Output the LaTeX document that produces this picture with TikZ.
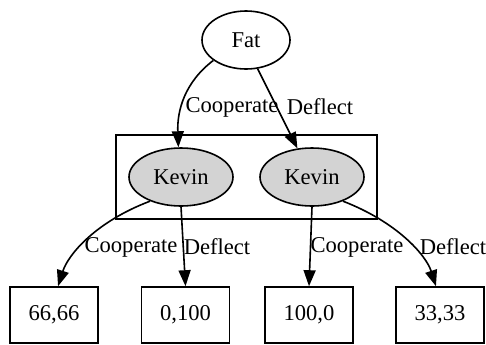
\documentclass[tikz,border=0pt]{standalone}
\usepackage{fontspec}
\setmainfont{Liberation Serif}
\usetikzlibrary{arrows.meta,shapes.geometric}
\begin{document}
\begin{tikzpicture}[x=0.5pt,y=-0.5pt,
  every node/.style={font=\fontsize{11.3pt}{13pt}\selectfont},
  player/.style={draw,ellipse,line width=0.8pt,inner sep=0pt},
  decider/.style={player,fill={rgb,255:red,211;green,211;blue,211},minimum width=52pt,minimum height=29pt},
  payoff/.style={draw,rectangle,line width=0.8pt,minimum width=44pt,minimum height=28pt,inner sep=0pt},
  move/.style={line width=0.8pt,-{Triangle[length=8pt,width=6pt]}},
  movelabel/.style={inner sep=0pt}]
\useasboundingbox (0,0) rectangle (486,344);
% cluster around the second mover's nodes
\draw[line width=0.8pt] (116,135) rectangle (377,219);
% game tree nodes
\node[player,minimum width=44pt,minimum height=29pt] (fat) at (246,40) {Fat};
\node[decider] (k1) at (181,177) {Kevin};
\node[decider] (k2) at (312,177) {Kevin};
\node[payoff] (p1) at (54,315) {66,66};
\node[payoff] (p2) at (185.5,315) {0,100};
\node[payoff] (p3) at (309,315) {100,0};
\node[payoff] (p4) at (440,315) {33,33};
% moves of the first player
\draw[move] (fat.212) .. controls (185,82) and (177,110) .. (k1.95);
\draw[move] (fat.292) -- (k2.117);
\node[movelabel] (c0) at (232,107) {Cooperate};
\node[movelabel] (d0) at (320,107) {Deflect};
% moves of the second player
\draw[move] (k1.218) .. controls (95,222) and (68,255) .. (p1.82);
\draw[move] (k1.south) -- (p2.north);
\draw[move] (k2.south) -- (p3.north);
\draw[move] (k2.322) .. controls (397,222) and (426,255) .. (p4.98);
\node[movelabel] (c1) at (131,247) {Cooperate};
\node[movelabel] (d1) at (217,247) {Deflect};
\node[movelabel] (c2) at (357,247) {Cooperate};
\node[movelabel] (d2) at (453,247) {Deflect};
\end{tikzpicture}
\end{document}
